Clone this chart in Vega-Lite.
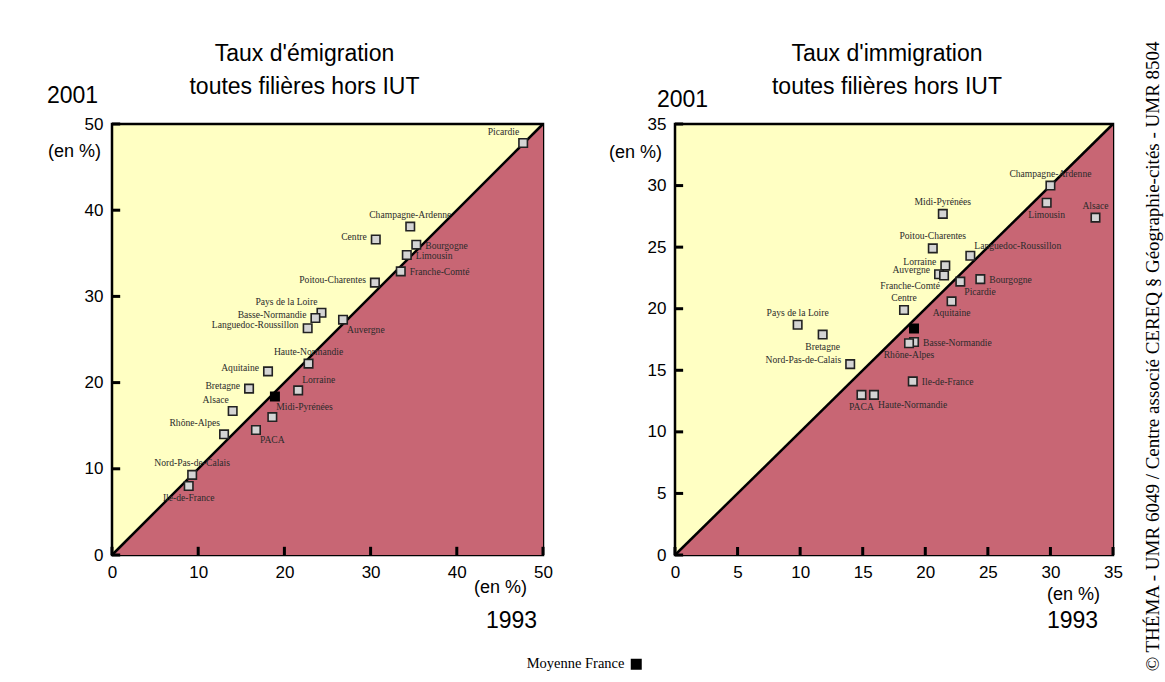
{
  "$schema": "https://vega.github.io/schema/vega-lite/v6.json",
  "background": "white",
  "padding": {"left": 45, "top": 40, "right": 5, "bottom": 5},
  "datasets": {
    "diag50": [{"x": 0, "y": 0}, {"x": 50, "y": 50}],
    "diag35": [{"x": 0, "y": 0}, {"x": 35, "y": 35}],
    "ticks50": [{"v": 0}, {"v": 10}, {"v": 20}, {"v": 30}, {"v": 40}, {"v": 50}],
    "ticks35": [{"v": 0}, {"v": 5}, {"v": 10}, {"v": 15}, {"v": 20}, {"v": 25}, {"v": 30}, {"v": 35}],
    "france": [
      {"serie": "Moyenne France", "panel": "emig", "x": 18.9, "y": 18.4},
      {"serie": "Moyenne France", "panel": "immig", "x": 19.1, "y": 18.4}
    ],
    "emig": [
      {"region": "Picardie", "x": 47.7, "y": 47.8, "pos": "tl"},
      {"region": "Champagne-Ardenne", "x": 34.6, "y": 38.1, "pos": "t"},
      {"region": "Centre", "x": 30.6, "y": 36.6, "pos": "l"},
      {"region": "Bourgogne", "x": 35.3, "y": 36.0, "pos": "r"},
      {"region": "Limousin", "x": 34.2, "y": 34.8, "pos": "r"},
      {"region": "Franche-Comté", "x": 33.5, "y": 32.9, "pos": "r"},
      {"region": "Poitou-Charentes", "x": 30.5, "y": 31.6, "pos": "l"},
      {"region": "Pays de la Loire", "x": 24.3, "y": 28.1, "pos": "tl"},
      {"region": "Basse-Normandie", "x": 23.6, "y": 27.5, "pos": "l"},
      {"region": "Languedoc-Roussillon", "x": 22.7, "y": 26.3, "pos": "l"},
      {"region": "Auvergne", "x": 26.8, "y": 27.3, "pos": "br"},
      {"region": "Haute-Normandie", "x": 22.8, "y": 22.2, "pos": "t"},
      {"region": "Aquitaine", "x": 18.1, "y": 21.3, "pos": "l"},
      {"region": "Bretagne", "x": 15.9, "y": 19.3, "pos": "l"},
      {"region": "Lorraine", "x": 21.6, "y": 19.1, "pos": "tr"},
      {"region": "Alsace", "x": 14.0, "y": 16.7, "pos": "tl"},
      {"region": "Midi-Pyrénées", "x": 18.6, "y": 16.0, "pos": "tr"},
      {"region": "Rhône-Alpes", "x": 13.0, "y": 14.0, "pos": "tl"},
      {"region": "PACA", "x": 16.7, "y": 14.5, "pos": "br"},
      {"region": "Nord-Pas-de-Calais", "x": 9.3, "y": 9.3, "pos": "t"},
      {"region": "Ile-de-France", "x": 8.9, "y": 8.0, "pos": "b"}
    ],
    "immig": [
      {"region": "Champagne-Ardenne", "x": 30.0, "y": 30.0, "pos": "t"},
      {"region": "Limousin", "x": 29.7, "y": 28.6, "pos": "b"},
      {"region": "Alsace", "x": 33.6, "y": 27.4, "pos": "t"},
      {"region": "Midi-Pyrénées", "x": 21.4, "y": 27.7, "pos": "t"},
      {"region": "Poitou-Charentes", "x": 20.6, "y": 24.9, "pos": "t"},
      {"region": "Languedoc-Roussillon", "x": 23.6, "y": 24.3, "pos": "tr"},
      {"region": "Lorraine", "x": 21.6, "y": 23.5, "pos": "l"},
      {"region": "Auvergne", "x": 21.1, "y": 22.8, "pos": "l"},
      {"region": "Franche-Comté", "x": 21.5, "y": 22.7, "pos": "bl"},
      {"region": "Bourgogne", "x": 24.4, "y": 22.4, "pos": "r"},
      {"region": "Picardie", "x": 22.8, "y": 22.2, "pos": "br"},
      {"region": "Aquitaine", "x": 22.1, "y": 20.6, "pos": "b"},
      {"region": "Centre", "x": 18.3, "y": 19.9, "pos": "t"},
      {"region": "Pays de la Loire", "x": 9.8, "y": 18.7, "pos": "t"},
      {"region": "Bretagne", "x": 11.8, "y": 17.9, "pos": "b"},
      {"region": "Basse-Normandie", "x": 19.1, "y": 17.3, "pos": "r"},
      {"region": "Rhône-Alpes", "x": 18.7, "y": 17.2, "pos": "b"},
      {"region": "Nord-Pas-de-Calais", "x": 14.0, "y": 15.5, "pos": "l"},
      {"region": "Ile-de-France", "x": 19.0, "y": 14.1, "pos": "r"},
      {"region": "PACA", "x": 14.9, "y": 13.0, "pos": "b"},
      {"region": "Haute-Normandie", "x": 15.9, "y": 13.0, "pos": "br"}
    ]
  },
  "title": {
    "text": "© THÉMA - UMR 6049 / Centre associé CEREQ § Géographie-cités - UMR 8504",
    "orient": "right",
    "anchor": "middle",
    "angle": -90,
    "font": "Liberation Serif",
    "fontSize": 19,
    "fontWeight": "normal",
    "color": "black",
    "offset": 1
  },
  "columns": 2,
  "align": "none",
  "spacing": 53,
  "resolve": {"scale": {"x": "independent", "y": "independent"}},
  "concat": [
    {
      "width": 431,
      "height": 431,
      "title": {
        "text": ["Taux d'émigration", "toutes filières hors IUT"],
        "dx": -23,
        "offset": -15
      },
      "view": {"fill": "#FFFFC3", "stroke": "black", "strokeWidth": 2.5},
      "resolve": {"axis": {"x": "independent", "y": "independent"}},
      "layer": [
        {
          "data": {"name": "diag50"},
          "mark": {"type": "area", "color": "#C86674", "opacity": 1},
          "encoding": {
            "x": {"field": "x", "type": "quantitative", "scale": {"domain": [0, 50], "nice": false},
              "axis": {"orient": "bottom", "values": [0, 10, 20, 30, 40, 50], "title": "(en %)", "titleFontSize": 18, "titleX": 388, "titleY": 32}},
            "y": {"field": "y", "type": "quantitative", "scale": {"domain": [0, 50], "nice": false},
              "axis": {"orient": "left", "values": [0, 10, 20, 30, 40, 50], "title": "2001", "titleFontSize": 23, "titleX": -40, "titleY": -29}},
            "y2": {"datum": 0}
          }
        },
        {
          "data": {"name": "diag50"},
          "mark": {"type": "line", "color": "black", "strokeWidth": 2.5},
          "encoding": {
            "x": {"field": "x", "type": "quantitative", "scale": {"domain": [0, 50], "nice": false},
              "axis": {"orient": "top", "offset": -431, "labels": false, "values": [0, 10, 20, 30, 40, 50], "title": "1993", "titleFontSize": 23, "titleX": 399, "titleY": 65}},
            "y": {"field": "y", "type": "quantitative", "scale": {"domain": [0, 50], "nice": false},
              "axis": {"orient": "right", "offset": -431, "labels": false, "values": [0, 10, 20, 30, 40, 50], "title": "(en %)", "titleFontSize": 18, "titleX": -38, "titleY": 27}}
          }
        },
        {
          "data": {"name": "ticks50"},
          "mark": {"type": "rule", "color": "black", "strokeWidth": 3, "opacity": 1},
          "encoding": {
            "x": {"field": "v", "type": "quantitative", "axis": null},
            "y": {"datum": 0, "type": "quantitative", "axis": null},
            "y2": {"datum": 0.95}
          }
        },
        {
          "data": {"name": "ticks50"},
          "mark": {"type": "rule", "color": "black", "strokeWidth": 3, "opacity": 1},
          "encoding": {
            "x": {"datum": 0, "type": "quantitative", "axis": null},
            "x2": {"datum": 0.95},
            "y": {"field": "v", "type": "quantitative", "axis": null}
          }
        },
        {
          "data": {"name": "emig"},
          "mark": {"type": "point", "shape": "square", "size": 72, "filled": true, "fill": "#D4D4D4", "stroke": "#222222", "strokeWidth": 1.6, "opacity": 1},
          "encoding": {
            "x": {"field": "x", "type": "quantitative", "axis": null},
            "y": {"field": "y", "type": "quantitative", "axis": null}
          }
        },
        {
          "data": {"name": "france"},
          "transform": [{"filter": "datum.panel == 'emig'"}],
          "mark": {"type": "point", "shape": "square", "size": 72, "filled": true, "stroke": "black", "strokeWidth": 1.5, "opacity": 1},
          "encoding": {
            "x": {"field": "x", "type": "quantitative", "axis": null},
            "y": {"field": "y", "type": "quantitative", "axis": null},
            "fill": {"field": "serie", "type": "nominal", "scale": {"range": ["black"]},
              "legend": {"orient": "none", "legendX": 517, "legendY": 533, "title": null, "padding": 0,
                "symbolType": "square", "symbolSize": 121, "symbolStrokeWidth": 0,
                "labelFont": "Liberation Serif", "labelFontSize": 14.5, "labelColor": "black",
                "labelAlign": "right", "labelOffset": -19}}
          }
        },
        {
          "data": {"name": "emig"}, "transform": [{"filter": "datum.pos == 't'"}],
          "mark": {"type": "text", "font": "Liberation Serif", "fontSize": 9.6, "fill": "#2b2b2b", "align": "center", "baseline": "middle", "dx": 0, "dy": -12},
          "encoding": {"x": {"field": "x", "type": "quantitative", "axis": null}, "y": {"field": "y", "type": "quantitative", "axis": null}, "text": {"field": "region"}}
        },
        {
          "data": {"name": "emig"}, "transform": [{"filter": "datum.pos == 'b'"}],
          "mark": {"type": "text", "font": "Liberation Serif", "fontSize": 9.6, "fill": "#2b2b2b", "align": "center", "baseline": "middle", "dx": 0, "dy": 12},
          "encoding": {"x": {"field": "x", "type": "quantitative", "axis": null}, "y": {"field": "y", "type": "quantitative", "axis": null}, "text": {"field": "region"}}
        },
        {
          "data": {"name": "emig"}, "transform": [{"filter": "datum.pos == 'l'"}],
          "mark": {"type": "text", "font": "Liberation Serif", "fontSize": 9.6, "fill": "#2b2b2b", "align": "right", "baseline": "middle", "dx": -9, "dy": -3},
          "encoding": {"x": {"field": "x", "type": "quantitative", "axis": null}, "y": {"field": "y", "type": "quantitative", "axis": null}, "text": {"field": "region"}}
        },
        {
          "data": {"name": "emig"}, "transform": [{"filter": "datum.pos == 'r'"}],
          "mark": {"type": "text", "font": "Liberation Serif", "fontSize": 9.6, "fill": "#2b2b2b", "align": "left", "baseline": "middle", "dx": 9, "dy": 1},
          "encoding": {"x": {"field": "x", "type": "quantitative", "axis": null}, "y": {"field": "y", "type": "quantitative", "axis": null}, "text": {"field": "region"}}
        },
        {
          "data": {"name": "emig"}, "transform": [{"filter": "datum.pos == 'tl'"}],
          "mark": {"type": "text", "font": "Liberation Serif", "fontSize": 9.6, "fill": "#2b2b2b", "align": "right", "baseline": "middle", "dx": -4, "dy": -11},
          "encoding": {"x": {"field": "x", "type": "quantitative", "axis": null}, "y": {"field": "y", "type": "quantitative", "axis": null}, "text": {"field": "region"}}
        },
        {
          "data": {"name": "emig"}, "transform": [{"filter": "datum.pos == 'tr'"}],
          "mark": {"type": "text", "font": "Liberation Serif", "fontSize": 9.6, "fill": "#2b2b2b", "align": "left", "baseline": "middle", "dx": 4, "dy": -10},
          "encoding": {"x": {"field": "x", "type": "quantitative", "axis": null}, "y": {"field": "y", "type": "quantitative", "axis": null}, "text": {"field": "region"}}
        },
        {
          "data": {"name": "emig"}, "transform": [{"filter": "datum.pos == 'bl'"}],
          "mark": {"type": "text", "font": "Liberation Serif", "fontSize": 9.6, "fill": "#2b2b2b", "align": "right", "baseline": "middle", "dx": -4, "dy": 11},
          "encoding": {"x": {"field": "x", "type": "quantitative", "axis": null}, "y": {"field": "y", "type": "quantitative", "axis": null}, "text": {"field": "region"}}
        },
        {
          "data": {"name": "emig"}, "transform": [{"filter": "datum.pos == 'br'"}],
          "mark": {"type": "text", "font": "Liberation Serif", "fontSize": 9.6, "fill": "#2b2b2b", "align": "left", "baseline": "middle", "dx": 4, "dy": 10},
          "encoding": {"x": {"field": "x", "type": "quantitative", "axis": null}, "y": {"field": "y", "type": "quantitative", "axis": null}, "text": {"field": "region"}}
        }
      ]
    },
    {
      "width": 438,
      "height": 431,
      "title": {
        "text": ["Taux d'immigration", "toutes filières hors IUT"],
        "dx": -7,
        "offset": -11
      },
      "view": {"fill": "#FFFFC3", "stroke": "black", "strokeWidth": 2.5},
      "resolve": {"axis": {"x": "independent", "y": "independent"}},
      "layer": [
        {
          "data": {"name": "diag35"},
          "mark": {"type": "area", "color": "#C86674", "opacity": 1},
          "encoding": {
            "x": {"field": "x", "type": "quantitative", "scale": {"domain": [0, 35], "nice": false},
              "axis": {"orient": "bottom", "values": [0, 5, 10, 15, 20, 25, 30, 35], "title": "(en %)", "titleFontSize": 18, "titleX": 398, "titleY": 39}},
            "y": {"field": "y", "type": "quantitative", "scale": {"domain": [0, 35], "nice": false},
              "axis": {"orient": "left", "values": [0, 5, 10, 15, 20, 25, 30, 35], "title": "2001", "titleFontSize": 23, "titleX": 7, "titleY": -25}},
            "y2": {"datum": 0}
          }
        },
        {
          "data": {"name": "diag35"},
          "mark": {"type": "line", "color": "black", "strokeWidth": 2.5},
          "encoding": {
            "x": {"field": "x", "type": "quantitative", "scale": {"domain": [0, 35], "nice": false},
              "axis": {"orient": "top", "offset": -431, "labels": false, "values": [0, 5, 10, 15, 20, 25, 30, 35], "title": "1993", "titleFontSize": 23, "titleX": 397, "titleY": 65}},
            "y": {"field": "y", "type": "quantitative", "scale": {"domain": [0, 35], "nice": false},
              "axis": {"orient": "right", "offset": -438, "labels": false, "values": [0, 5, 10, 15, 20, 25, 30, 35], "title": "(en %)", "titleFontSize": 18, "titleX": -40, "titleY": 28}}
          }
        },
        {
          "data": {"name": "ticks35"},
          "mark": {"type": "rule", "color": "black", "strokeWidth": 3, "opacity": 1},
          "encoding": {
            "x": {"field": "v", "type": "quantitative", "axis": null},
            "y": {"datum": 0, "type": "quantitative", "axis": null},
            "y2": {"datum": 0.65}
          }
        },
        {
          "data": {"name": "ticks35"},
          "mark": {"type": "rule", "color": "black", "strokeWidth": 3, "opacity": 1},
          "encoding": {
            "x": {"datum": 0, "type": "quantitative", "axis": null},
            "x2": {"datum": 0.65},
            "y": {"field": "v", "type": "quantitative", "axis": null}
          }
        },
        {
          "data": {"name": "immig"},
          "mark": {"type": "point", "shape": "square", "size": 72, "filled": true, "fill": "#D4D4D4", "stroke": "#222222", "strokeWidth": 1.6, "opacity": 1},
          "encoding": {
            "x": {"field": "x", "type": "quantitative", "axis": null},
            "y": {"field": "y", "type": "quantitative", "axis": null}
          }
        },
        {
          "data": {"name": "france"},
          "transform": [{"filter": "datum.panel == 'immig'"}],
          "mark": {"type": "point", "shape": "square", "size": 72, "filled": true, "fill": "black", "stroke": "black", "strokeWidth": 1.5, "opacity": 1},
          "encoding": {
            "x": {"field": "x", "type": "quantitative", "axis": null},
            "y": {"field": "y", "type": "quantitative", "axis": null}
          }
        },
        {
          "data": {"name": "immig"}, "transform": [{"filter": "datum.pos == 't'"}],
          "mark": {"type": "text", "font": "Liberation Serif", "fontSize": 9.6, "fill": "#2b2b2b", "align": "center", "baseline": "middle", "dx": 0, "dy": -12},
          "encoding": {"x": {"field": "x", "type": "quantitative", "axis": null}, "y": {"field": "y", "type": "quantitative", "axis": null}, "text": {"field": "region"}}
        },
        {
          "data": {"name": "immig"}, "transform": [{"filter": "datum.pos == 'b'"}],
          "mark": {"type": "text", "font": "Liberation Serif", "fontSize": 9.6, "fill": "#2b2b2b", "align": "center", "baseline": "middle", "dx": 0, "dy": 12},
          "encoding": {"x": {"field": "x", "type": "quantitative", "axis": null}, "y": {"field": "y", "type": "quantitative", "axis": null}, "text": {"field": "region"}}
        },
        {
          "data": {"name": "immig"}, "transform": [{"filter": "datum.pos == 'l'"}],
          "mark": {"type": "text", "font": "Liberation Serif", "fontSize": 9.6, "fill": "#2b2b2b", "align": "right", "baseline": "middle", "dx": -9, "dy": -4},
          "encoding": {"x": {"field": "x", "type": "quantitative", "axis": null}, "y": {"field": "y", "type": "quantitative", "axis": null}, "text": {"field": "region"}}
        },
        {
          "data": {"name": "immig"}, "transform": [{"filter": "datum.pos == 'r'"}],
          "mark": {"type": "text", "font": "Liberation Serif", "fontSize": 9.6, "fill": "#2b2b2b", "align": "left", "baseline": "middle", "dx": 9, "dy": 1},
          "encoding": {"x": {"field": "x", "type": "quantitative", "axis": null}, "y": {"field": "y", "type": "quantitative", "axis": null}, "text": {"field": "region"}}
        },
        {
          "data": {"name": "immig"}, "transform": [{"filter": "datum.pos == 'tl'"}],
          "mark": {"type": "text", "font": "Liberation Serif", "fontSize": 9.6, "fill": "#2b2b2b", "align": "right", "baseline": "middle", "dx": -4, "dy": -11},
          "encoding": {"x": {"field": "x", "type": "quantitative", "axis": null}, "y": {"field": "y", "type": "quantitative", "axis": null}, "text": {"field": "region"}}
        },
        {
          "data": {"name": "immig"}, "transform": [{"filter": "datum.pos == 'tr'"}],
          "mark": {"type": "text", "font": "Liberation Serif", "fontSize": 9.6, "fill": "#2b2b2b", "align": "left", "baseline": "middle", "dx": 4, "dy": -10},
          "encoding": {"x": {"field": "x", "type": "quantitative", "axis": null}, "y": {"field": "y", "type": "quantitative", "axis": null}, "text": {"field": "region"}}
        },
        {
          "data": {"name": "immig"}, "transform": [{"filter": "datum.pos == 'bl'"}],
          "mark": {"type": "text", "font": "Liberation Serif", "fontSize": 9.6, "fill": "#2b2b2b", "align": "right", "baseline": "middle", "dx": -4, "dy": 11},
          "encoding": {"x": {"field": "x", "type": "quantitative", "axis": null}, "y": {"field": "y", "type": "quantitative", "axis": null}, "text": {"field": "region"}}
        },
        {
          "data": {"name": "immig"}, "transform": [{"filter": "datum.pos == 'br'"}],
          "mark": {"type": "text", "font": "Liberation Serif", "fontSize": 9.6, "fill": "#2b2b2b", "align": "left", "baseline": "middle", "dx": 4, "dy": 10},
          "encoding": {"x": {"field": "x", "type": "quantitative", "axis": null}, "y": {"field": "y", "type": "quantitative", "axis": null}, "text": {"field": "region"}}
        }
      ]
    }
  ],
  "config": {
    "font": "Liberation Sans",
    "view": {"stroke": "black", "strokeWidth": 2.5},
    "axis": {
      "domain": false,
      "grid": false,
      "labelFont": "Liberation Sans",
      "labelFontSize": 17,
      "labelColor": "black",
      "labelFlush": false,
      "labelOverlap": false,
      "labelPadding": 9,
      "ticks": false,
      "titleFont": "Liberation Sans",
      "titleFontWeight": "normal",
      "titleColor": "black",
      "titleAngle": 0,
      "titleAlign": "center",
      "titleBaseline": "middle"
    },
    "title": {
      "font": "Liberation Sans",
      "fontSize": 23,
      "fontWeight": "normal",
      "color": "black",
      "anchor": "middle",
      "lineHeight": 33
    }
  }
}
